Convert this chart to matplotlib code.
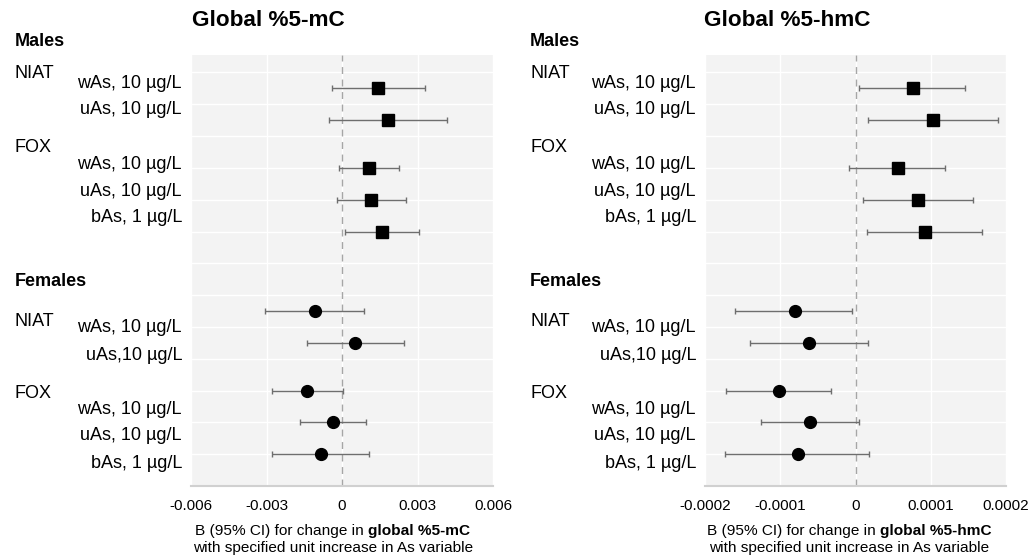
import numpy as np
import matplotlib
matplotlib.use('Agg')
from matplotlib import pyplot as plt

plt.rcParams['font.family'] = ['Liberation Sans', 'DejaVu Sans']

# row positions (males at top, females at bottom)
ypos = [12.5, 11.5, 10, 9, 8, 5.5, 4.5, 3, 2, 1]
sex = ['m'] * 5 + ['f'] * 5

# Global %5-mC
mc_est = [0.00143, 0.00183, 0.00107, 0.00117, 0.00159,
          -0.00109, 0.00053, -0.00139, -0.00037, -0.00084]
mc_lo = [-0.00039, -0.0005, -0.0001, -0.00018, 0.00012,
         -0.00305, -0.00138, -0.0028, -0.00167, -0.00279]
mc_hi = [0.00328, 0.00417, 0.00225, 0.00253, 0.00304,
         0.00089, 0.00245, 0.00004, 0.00095, 0.00109]

# Global %5-hmC
hmc_est = [7.6e-5, 10.3e-5, 5.6e-5, 8.3e-5, 9.2e-5,
           -8.1e-5, -6.2e-5, -10.2e-5, -6.1e-5, -7.6e-5]
hmc_lo = [0.5e-5, 1.6e-5, -0.8e-5, 1.0e-5, 1.5e-5,
          -16.0e-5, -14.0e-5, -17.2e-5, -12.5e-5, -17.3e-5]
hmc_hi = [14.6e-5, 19.0e-5, 11.9e-5, 15.6e-5, 16.8e-5,
          -0.4e-5, 1.6e-5, -3.2e-5, 0.4e-5, 1.8e-5]

mc_ticks = [-0.006, -0.003, 0, 0.003, 0.006]
mc_ticklabels = ['-0.006', '-0.003', '0', '0.003', '0.006']
hmc_ticks = [-0.0002, -0.0001, 0, 0.0001, 0.0002]
hmc_ticklabels = ['-0.0002', '-0.0001', '0', '0.0001', '0.0002']

sex_labels = ['Males', 'Females']
group_labels = ['NIAT', 'FOX', 'NIAT', 'FOX']
row_labels = ['wAs, 10 µg/L', 'uAs, 10 µg/L', 'wAs, 10 µg/L', 'uAs, 10 µg/L', 'bAs, 1 µg/L',
              'wAs, 10 µg/L', 'uAs,10 µg/L', 'wAs, 10 µg/L', 'uAs, 10 µg/L', 'bAs, 1 µg/L']

W, H = 1036, 560
fig = plt.figure(figsize=(W / 100, H / 100), dpi=100)


def px(x, y):
    return x / W, 1 - y / H


def panel(left, right, est, lo, hi, ticks, ticklabels, title, title_x, lab_x, grp_x, xl_x, bold_txt):
    ax = fig.add_axes([left / W, 1 - 486 / H, (right - left) / W, 431 / H])
    ax.set_facecolor('#f3f3f3')
    est = np.array(est)
    lo = np.array(lo)
    hi = np.array(hi)
    for s, mk, ms in [('m', 's', 8.5), ('f', 'o', 8.5)]:
        idx = [i for i in range(len(sex)) if sex[i] == s]
        ax.errorbar(est[idx], np.array(ypos)[idx],
                    xerr=[est[idx] - lo[idx], hi[idx] - est[idx]],
                    fmt=mk, color='black', ms=ms, ecolor='#6e6e6e',
                    elinewidth=1.0, capsize=2.5, capthick=1.0, zorder=3)
    ax.set_xlim(ticks[0], ticks[-1])
    ax.set_ylim(0, 13.55)
    ax.set_xticks(ticks)
    ax.set_xticklabels(ticklabels, fontsize=11)
    ax.set_yticks(range(1, 14))
    ax.set_yticklabels([])
    ax.tick_params(length=0, pad=9)
    ax.grid(True, color='white', lw=1.0, zorder=0)
    ax.set_axisbelow(True)
    ax.axvline(0, color='#a6a6a6', lw=1.0, ls=(0, (5, 4)), zorder=1)
    for sp in ['top', 'right', 'left']:
        ax.spines[sp].set_visible(False)
    ax.spines['bottom'].set_color('#d0d0d0')
    ax.spines['bottom'].set_linewidth(1.5)

    fig.text(*px(title_x, 21), title, fontsize=16.2, fontweight='bold', ha='center', va='center')
    fig.text(*px(grp_x, 42), sex_labels[0], fontsize=13, fontweight='bold', va='center')
    fig.text(*px(grp_x, 281), sex_labels[1], fontsize=13, fontweight='bold', va='center')
    for g, gy in zip(group_labels, [74, 148, 322, 393]):
        fig.text(*px(grp_x, gy), g, fontsize=13, va='center')
    for lab, ly in zip(row_labels, [83, 110, 164, 191, 218, 328, 355, 410, 436, 463]):
        fig.text(*px(lab_x, ly), lab, fontsize=13, va='center', ha='right')

    # x label with bold part, centred manually
    r = fig.canvas.get_renderer()
    t1 = fig.text(0, 0, 'B (95% CI) for change in ', fontsize=11.1, va='center')
    t2 = fig.text(0, 0, bold_txt, fontsize=11.1, fontweight='bold', va='center')
    w1 = t1.get_window_extent(r).width
    w2 = t2.get_window_extent(r).width
    x0 = xl_x - (w1 + w2) / 2
    t1.set_position(px(x0, 531))
    t2.set_position(px(x0 + w1, 531))
    fig.text(*px(xl_x, 548), 'with specified unit increase in As variable',
             fontsize=11.1, ha='center', va='center')
    return ax


panel(191, 493, mc_est, mc_lo, mc_hi, mc_ticks, mc_ticklabels,
      'Global %5-mC', 268, 182, 15, 333, 'global %5-mC')
panel(705, 1006, hmc_est, hmc_lo, hmc_hi, hmc_ticks, hmc_ticklabels,
      'Global %5-hmC', 787, 696, 530, 849, 'global %5-hmC')

fig.savefig('out.png', dpi=100, facecolor='white')
